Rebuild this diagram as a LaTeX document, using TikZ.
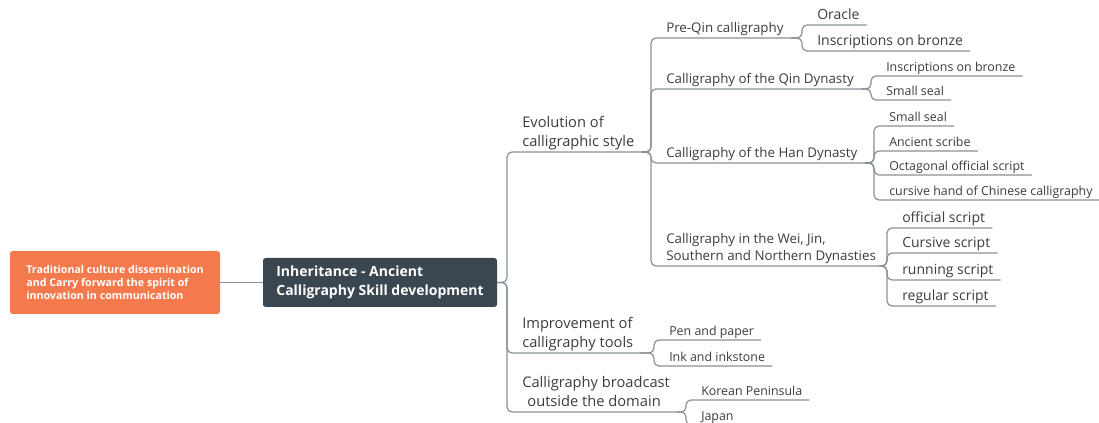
\documentclass[tikz,border=0pt]{standalone}
\usepackage{fontspec}
\setmainfont{Open Sans}
\definecolor{linegray}{HTML}{8A9096}
\definecolor{textgray}{HTML}{3C3C3C}
\definecolor{rootdark}{HTML}{3A4650}
\definecolor{sideorange}{HTML}{F47A4E}

\begin{document}
\begin{tikzpicture}[x=0.75pt,y=-0.75pt]
% Styles
\tikzstyle{topic}=[anchor=south west,inner xsep=5.25pt,inner ysep=0pt,align=left,text=textgray,execute at end node=\strut]
\tikzstyle{main topic}=[topic,font=\fontsize{11}{14.25}\selectfont]
\tikzstyle{sub topic}=[topic,font=\fontsize{10}{12.75}\selectfont]
\tikzstyle{leaf}=[topic,font=\fontsize{9.3}{11.6}\selectfont]
\tikzstyle{big leaf}=[topic,font=\fontsize{10.5}{13}\selectfont]
\tikzstyle{conn}=[draw=linegray,line width=0.9pt,rounded corners=3.75pt]
\useasboundingbox (0,0) rectangle (1099,423);
% The two boxes on the left
\node[fill=rootdark,rounded corners=2pt,text=white,align=left,
  font=\bfseries\fontsize{10.5}{14.25}\selectfont,
  minimum width=175.5pt,minimum height=36.75pt] (root) at (380,282.5)
  {Inheritance - Ancient\\Calligraphy Skill development};
\node[fill=sideorange,rounded corners=2pt,text=white,align=left,
  font=\bfseries\fontsize{8}{10.1}\selectfont,
  minimum width=157.5pt,minimum height=47.25pt] (side) at (115,282.5)
  {Traditional culture dissemination\\and Carry forward the spirit of\\innovation in communication};
\draw[conn] (side) -- (root);
% first level
\node[main topic] (evo) at (515,152) {Evolution of\\calligraphic style};
\node[main topic] (tools) at (515,353) {Improvement of\\calligraphy tools};
\node[main topic] (abroad) at (515,412) {Calligraphy broadcast\\\hspace*{0.35em}outside the domain};
% second level
\node[sub topic] (preqin) at (659,38) {Pre-Qin calligraphy};
\node[sub topic] (qin) at (659,89) {Calligraphy of the Qin Dynasty};
\node[sub topic] (han) at (659,163) {Calligraphy of the Han Dynasty};
\node[sub topic] (weijin) at (659,266) {Calligraphy in the Wei, Jin,\\Southern and Northern Dynasties};
% leaves
\node[big leaf] (oracle) at (810,25) {Oracle};
\node[big leaf] (bronzeA) at (810,51) {Inscriptions on bronze};
\node[leaf] (bronzeB) at (879,76) {Inscriptions on bronze};
\node[leaf] (sealA) at (879,100) {Small seal};
\node[leaf] (sealB) at (882,126) {Small seal};
\node[leaf] (scribe) at (882,151) {Ancient scribe};
\node[leaf] (octagon) at (882,175) {Octagonal official script};
\node[leaf] (cursivehand) at (882,200) {cursive hand of Chinese calligraphy};
\node[big leaf] (official) at (895,228) {official script};
\node[big leaf] (cursive) at (895,253) {Cursive script};
\node[big leaf] (running) at (895,280) {running script};
\node[big leaf] (regular) at (895,306) {regular script};
\node[leaf] (pen) at (662,340) {Pen and paper};
\node[leaf] (ink) at (662,366) {Ink and inkstone};
\node[leaf] (korea) at (694,400) {Korean Peninsula};
\node[leaf] (japan) at (694,425) {Japan};
% connectors
\foreach \c in {evo,tools,abroad}
  \draw[conn] (root.east) -| ([xshift=-6pt]\c.south west) -- (\c.south east);
\foreach \p/\c in {evo/preqin,evo/qin,evo/han,evo/weijin,
  preqin/oracle,preqin/bronzeA,qin/bronzeB,qin/sealA,
  han/sealB,han/scribe,han/octagon,han/cursivehand,
  weijin/official,weijin/cursive,weijin/running,weijin/regular,
  tools/pen,tools/ink,abroad/korea,abroad/japan}
  \draw[conn] (\p.south east) -| ([xshift=-6pt]\c.south west) -- (\c.south east);
\end{tikzpicture}
\end{document}
